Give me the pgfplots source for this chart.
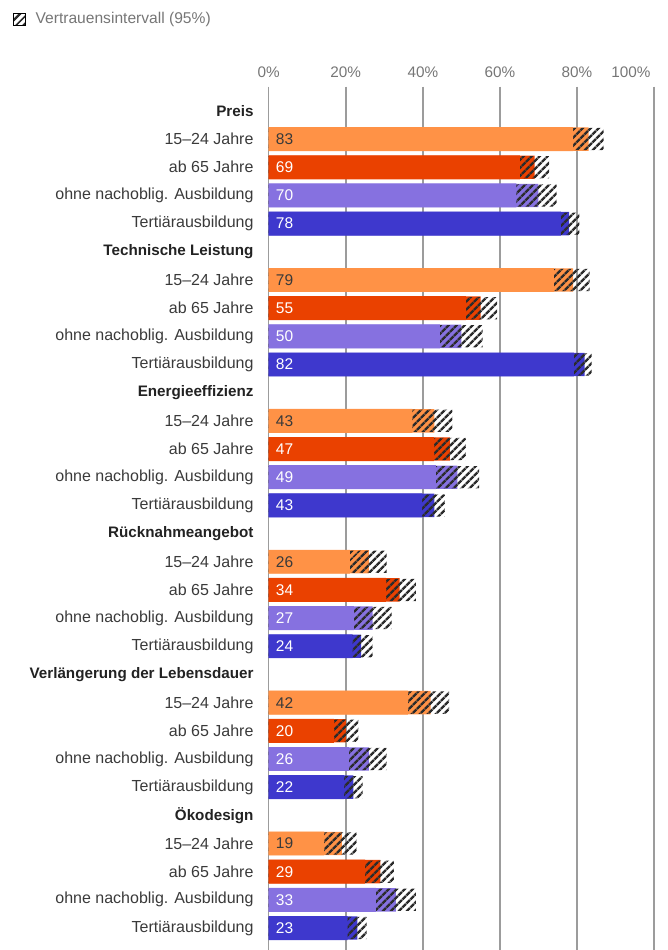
\documentclass[border=0pt]{standalone}
\usepackage{pgfplots}
\pgfplotsset{compat=1.18}
\usepackage{pgfplotstable}
\usetikzlibrary{patterns.meta}
\usepackage{fontspec}
\setmainfont{Liberation Sans}

\definecolor{cOrange}{HTML}{FF9246}
\definecolor{cRed}{HTML}{EA4100}
\definecolor{cLila}{HTML}{8671E0}
\definecolor{cBlau}{HTML}{3E38CD}
\definecolor{cHatch}{HTML}{2B2B2B}
\definecolor{cText}{HTML}{3A3A3A}
\definecolor{cHead}{HTML}{222222}
\definecolor{cTick}{HTML}{767676}
\definecolor{cGrid}{HTML}{9C9C9C}

% y = row, v = share, lo/hi = 95% interval
\pgfplotstableread{
y v lo hi
1 83 79.0 86.9
6 79 74.0 83.3
11 43 37.3 47.7
16 26 21.1 30.6
21 42 36.1 46.8
26 19 14.4 22.8
}\jung
\pgfplotstableread{
y v lo hi
2 69 65.2 72.8
7 55 51.2 59.3
12 47 42.9 51.2
17 34 30.4 38.2
22 20 16.9 23.3
27 29 25.0 32.5
}\alt
\pgfplotstableread{
y v lo hi
3 70 64.3 74.7
8 50 44.4 55.5
13 49 43.4 54.6
18 27 22.1 31.9
23 26 20.8 30.6
28 33 27.8 38.2
}\ohne
\pgfplotstableread{
y v lo hi
4 78 75.8 80.6
9 82 79.2 83.8
14 43 39.8 45.7
19 24 21.8 27.0
24 22 19.6 24.4
29 23 20.5 25.4
}\tert

\tikzset{hatch/.style={pattern={Lines[angle=45,distance=5.4pt,line width=2.6pt]}, pattern color=cHatch}}
\newcommand{\hd}[1]{{\fontsize{15.2}{18}\selectfont\bfseries\color{cHead}#1}}

\newcommand{\serie}[3]{%
  \addplot[xbar, bar shift=0pt, bar width=0.83, fill=#2, draw=none, forget plot] table[x=v, y=y] {#1};
  \addplot[xbar, bar shift=0pt, bar width=0.79, hatch, draw=none, forget plot] table[x=hi, y=y] {#1};
  \addplot[xbar, bar shift=0pt, bar width=0.85, fill=#2, draw=none, forget plot] table[x=lo, y=y] {#1};
  \addplot[draw=none, mark=none, forget plot, nodes near coords, point meta=explicit,
    every node near coord/.style={anchor=west, inner sep=0pt, xshift=7pt, text=#3,
      font=\fontsize{15.5}{18}\selectfont}]
    table[x expr=0, y=y, meta=v] {#1};
}

\begin{document}
\begin{tikzpicture}
\begin{axis}[
  scale only axis,
  width=385.3pt, height=863.3pt,
  xmin=0, xmax=100,
  ymin=-0.86, ymax=29.78, y dir=reverse,
  axis line style={draw=none},
  major tick length=0pt,
  xtick={0,20,40,60,80},
  extra x ticks={100},
  extra x tick style={xticklabel style={anchor=south east, xshift=0pt}},
  xticklabel pos=right,
  xticklabel={\pgfmathprintnumber{\tick}\%},
  xticklabel style={text=cTick, font=\fontsize{15.3}{18}\selectfont, yshift=6pt},
  /pgf/number format/assume math mode=true,
  xmajorgrids,
  grid style={cGrid, line width=1.6pt},
  ytick={0,...,29},
  yticklabels={
    \hd{Preis},15–24 Jahre,ab 65 Jahre,ohne nachoblig. Ausbildung,Tertiärausbildung,
    \hd{Technische Leistung},15–24 Jahre,ab 65 Jahre,ohne nachoblig. Ausbildung,Tertiärausbildung,
    \hd{Energieeffizienz},15–24 Jahre,ab 65 Jahre,ohne nachoblig. Ausbildung,Tertiärausbildung,
    \hd{Rücknahmeangebot},15–24 Jahre,ab 65 Jahre,ohne nachoblig. Ausbildung,Tertiärausbildung,
    \hd{Verlängerung der Lebensdauer},15–24 Jahre,ab 65 Jahre,ohne nachoblig. Ausbildung,Tertiärausbildung,
    \hd{Ökodesign},15–24 Jahre,ab 65 Jahre,ohne nachoblig. Ausbildung,Tertiärausbildung},
  yticklabel style={text=cText, font=\fontsize{16}{19}\selectfont, anchor=east, inner sep=0pt, xshift=-15pt},
  legend style={at={(axis description cs:-0.6636,1.0784)}, anchor=west, draw=none, fill=none,
    inner sep=0pt, font=\fontsize{15.6}{18}\selectfont, text=cTick,
    nodes={inner sep=0pt}},
  legend cell align=left,
]
\addlegendimage{legend image code/.code={\fill[hatch] (0.5pt,-6pt) rectangle (12.5pt,6pt);}}
\addlegendentry{\hspace{10pt}Vertrauensintervall (95\%)}

\serie{\jung}{cOrange}{cText}
\serie{\alt}{cRed}{white}
\serie{\ohne}{cLila}{white}
\serie{\tert}{cBlau}{white}
\end{axis}
\pgfresetboundingbox
\path (current axis.south west) ++(-268.7pt,0pt) rectangle ++(667pt,950pt);
\end{tikzpicture}
\end{document}
